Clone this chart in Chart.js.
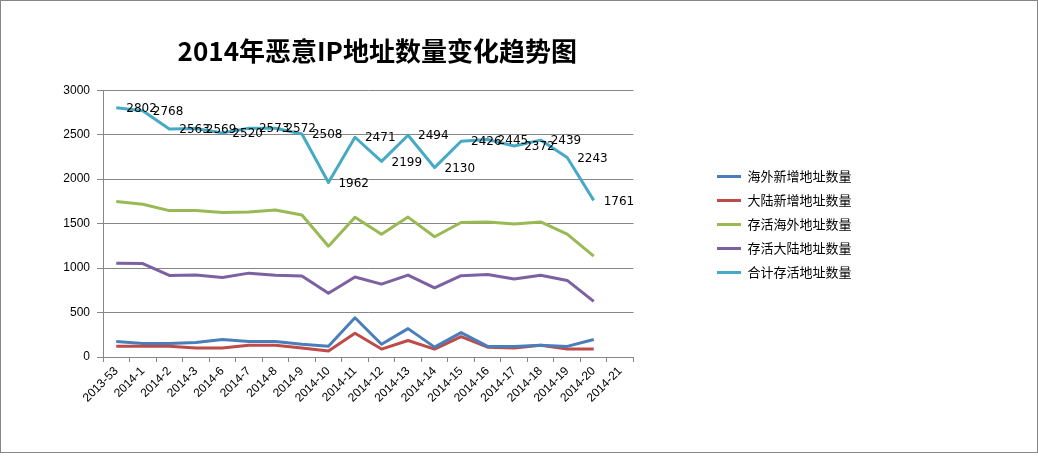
<!DOCTYPE html>
<html>
<head>
<meta charset="utf-8">
<script src="https://cdn.jsdelivr.net/npm/chart.js@4/dist/chart.umd.min.js"></script>
<style>
  html, body { margin: 0; padding: 0; background: #fff; }
  #box { width: 1038px; height: 453px; border: 1px solid #868686; box-sizing: border-box; }
  canvas { display: block; }
</style>
</head>
<body>
<div id="box"><canvas id="trend" width="1036" height="451"></canvas></div>
<script>
const weeks = ['2013-53', '2014-1', '2014-2', '2014-3', '2014-6', '2014-7', '2014-8', '2014-9', '2014-10',
  '2014-11', '2014-12', '2014-13', '2014-14', '2014-15', '2014-16', '2014-17', '2014-18', '2014-19', '2014-20', '2014-21']
const seriesNames = ['海外新增地址数量', '大陆新增地址数量', '存活海外地址数量', '存活大陆地址数量', '合计存活地址数量']
const overseasNew = [174, 152, 152, 163, 196, 174, 174, 144, 122, 441, 144, 319, 111, 274, 119, 119, 133, 119, 196]
const mainlandNew = [122, 122, 122, 100, 100, 133, 133, 100, 67, 267, 89, 185, 89, 230, 111, 100, 133, 89, 89]
const overseasLive = [1748, 1718, 1646, 1648, 1625, 1630, 1652, 1597, 1246, 1572, 1380, 1573, 1352, 1512, 1517, 1496, 1519, 1382, 1135]
const mainlandLive = [1054, 1050, 917, 921, 895, 943, 920, 911, 716, 899, 819, 921, 778, 914, 928, 876, 920, 861, 626]
const totalLive = [2802, 2768, 2563, 2569, 2520, 2573, 2572, 2508, 1962, 2471, 2199, 2494, 2130, 2426, 2445, 2372, 2439, 2243, 1761]
const yTicks = [0, 500, 1000, 1500, 2000, 2500, 3000]

const colors = ['#4a7ebb', '#be4b48', '#98b954', '#7d60a0', '#46aac5']
const values = [overseasNew, mainlandNew, overseasLive, mainlandLive, totalLive]

// labels next to the total line, Excel style (to the right of each point)
const valueLabels = {
  id: 'valueLabels',
  afterDatasetsDraw(chart) {
    const meta = chart.getDatasetMeta(4)
    const ctx = chart.ctx
    ctx.save()
    ctx.font = '12px "DejaVu Sans"'
    ctx.fillStyle = '#000'
    ctx.textAlign = 'left'
    ctx.textBaseline = 'middle'
    meta.data.forEach((pt, i) => ctx.fillText(totalLive[i], pt.x + 10, pt.y + 1))
    ctx.restore()
  }
}

// legend sits well away from the plot in the original, title a bit right of centre
const nudgeBoxes = {
  id: 'nudgeBoxes',
  afterLayout(chart) {
    const lg = chart.legend
    const left = 717 - 1 - lg.options.labels.padding
    lg.left = left
    lg.right = left + lg.width
    lg.top -= 2
    lg.bottom -= 2
    const tb = chart.titleBlock
    tb.left += 9
    tb.right += 9
  }
}

new Chart(document.getElementById('trend'), {
  type: 'line',
  data: {
    labels: weeks,
    datasets: seriesNames.map((name, i) => ({
      label: name,
      data: values[i],
      borderColor: colors[i],
      backgroundColor: colors[i],
      borderWidth: 3,
      borderJoinStyle: 'round',
      pointRadius: 0,
      tension: 0,
      fill: false
    }))
  },
  options: {
    responsive: false,
    animation: false,
    layout: { padding: { left: 62, right: 248, top: 0, bottom: 0 } },
    plugins: {
      title: {
        display: true,
        text: '2014年恶意IP地址数量变化趋势图',
        fullSize: false,
        color: '#000',
        font: { family: '"Noto Sans CJK SC"', size: 26, weight: 'bold' },
        padding: { top: 35, bottom: 23 }
      },
      legend: {
        position: 'right',
        labels: {
          boxWidth: 24,
          boxHeight: 3,
          padding: 11,
          color: '#000',
          font: { family: '"Noto Sans CJK SC"', size: 13 },
          generateLabels(chart) {
            return Chart.defaults.plugins.legend.labels.generateLabels(chart)
              .map(item => Object.assign(item, { lineWidth: 0 }))
          }
        }
      },
      tooltip: { enabled: false }
    },
    scales: {
      x: {
        offset: true,
        afterFit(scale) { scale.height = 95 },
        border: { color: '#868686', width: 1 },
        grid: { offset: true, drawOnChartArea: false, drawTicks: true, tickLength: 5, color: '#868686' },
        ticks: {
          autoSkip: false,
          maxRotation: 45,
          minRotation: 45,
          padding: 2,
          color: '#000',
          font: { family: '"Liberation Sans"', size: 12 }
        }
      },
      y: {
        min: 0,
        max: 3000,
        afterFit(scale) { scale.width = 40 },
        afterBuildTicks(scale) { scale.ticks = yTicks.map(v => ({ value: v })) },
        border: { color: '#868686', width: 1 },
        grid: { color: '#868686', tickLength: 6 },
        ticks: {
          padding: 7,
          color: '#000',
          font: { family: '"Liberation Sans"', size: 12 },
          callback: v => String(v)
        }
      }
    }
  },
  plugins: [valueLabels, nudgeBoxes]
})
</script>
</body>
</html>
